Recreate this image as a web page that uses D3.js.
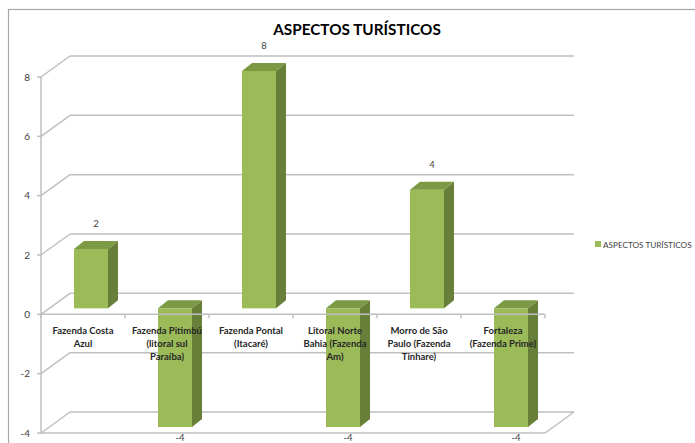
<!DOCTYPE html>
<html>
<head>
<meta charset="utf-8">
<script src="https://cdn.jsdelivr.net/npm/d3@7"></script>
<style>
  body { margin: 0; background: #fff; }
  svg { display: block; font-family: Lato, "Open Sans", sans-serif; }
</style>
</head>
<body>
<div id="chart"></div>
<script>
const categories = [
    ['Fazenda Costa', 'Azul'],
    ['Fazenda Pitimbú', '(litoral sul', 'Paraíba)'],
    ['Fazenda Pontal', '(Itacaré)'],
    ['Litoral Norte', 'Bahia (Fazenda', 'Am)'],
    ['Morro de São', 'Paulo (Fazenda', 'Tinhare)'],
    ['Fortaleza', '(Fazenda Prime)']
];
const values = [2, -4, 8, -4, 4, -4];
const yTicks = [-4, -2, 0, 2, 4, 6, 8];
const seriesName = 'ASPECTOS TURÍSTICOS';
const title = 'ASPECTOS TURÍSTICOS';

const width = 695;
const height = 443;
const depth = { dx: 29, dy: -21 };      // wall depth
const barOff = { dx: 8, dy: -6 };       // bar front position inside depth
const barDepth = { dx: 10, dy: -8 };
const barWidth = 34;

const svg = d3.select('#chart')
    .append('svg')
    .attr('width', width)
    .attr('height', height);

// chart area border (cropped on the right and bottom)
svg.append('rect')
    .attr('x', 8.5).attr('y', 9.5)
    .attr('width', 720).attr('height', 480)
    .attr('fill', 'none')
    .attr('stroke', '#a6a6a6')
    .attr('stroke-width', 1.2);

const y = d3.scaleLinear().domain([-4, 8]).range([433, 77]);
const x = d3.scaleBand()
    .domain(d3.range(categories.length))
    .range([41, 545])
    .padding(0);

const x0 = x.range()[0], x1 = x.range()[1];
const gridColor = '#bfbfbf';

// back wall gridlines and side wall diagonals
const grid = svg.append('g');
yTicks.forEach(t => {
    grid.append('line')
        .attr('x1', x0 + depth.dx).attr('x2', x1 + depth.dx)
        .attr('y1', y(t) + depth.dy).attr('y2', y(t) + depth.dy)
        .attr('stroke', gridColor).attr('stroke-width', 1.5);
    grid.append('line')
        .attr('x1', x0).attr('x2', x0 + depth.dx)
        .attr('y1', y(t)).attr('y2', y(t) + depth.dy)
        .attr('stroke', gridColor).attr('stroke-width', 1.5);
});

// floor front and right edges
grid.append('line')
    .attr('x1', x0).attr('x2', x1)
    .attr('y1', y(-4)).attr('y2', y(-4))
    .attr('stroke', gridColor).attr('stroke-width', 1.5);
grid.append('line')
    .attr('x1', x1).attr('x2', x1 + depth.dx)
    .attr('y1', y(-4)).attr('y2', y(-4) + depth.dy)
    .attr('stroke', gridColor).attr('stroke-width', 1.5);

// bars
const bars = svg.append('g');
values.forEach((v, i) => {
    const bx = x(i) + x.bandwidth() / 2 + barOff.dx - barWidth / 2;
    const yTop = y(Math.max(v, 0)) + barOff.dy;
    const yBot = y(Math.min(v, 0)) + barOff.dy;
    // front
    bars.append('rect')
        .attr('x', bx).attr('y', yTop)
        .attr('width', barWidth).attr('height', yBot - yTop)
        .attr('fill', '#9bbb59');
    // side
    bars.append('path')
        .attr('d', `M${bx + barWidth},${yTop} l${barDepth.dx},${barDepth.dy} L${bx + barWidth + barDepth.dx},${yBot + barDepth.dy} L${bx + barWidth},${yBot} Z`)
        .attr('fill', '#677f38');
    // top
    bars.append('path')
        .attr('d', `M${bx},${yTop} l${barDepth.dx},${barDepth.dy} h${barWidth} l${-barDepth.dx},${-barDepth.dy} Z`)
        .attr('fill', '#7c9a44');
    // value label
    const lx = bx + barWidth / 2 + barDepth.dx / 2;
    const ly = v >= 0 ? yTop + barDepth.dy - 14 : yBot + 14;
    bars.append('text')
        .attr('x', lx).attr('y', ly)
        .attr('text-anchor', 'middle')
        .attr('font-size', 9.5)
        .attr('fill', '#404040')
        .text(v);
});

// value axis (front)
const axis = svg.append('g');
axis.append('line')
    .attr('x1', x0).attr('x2', x0)
    .attr('y1', y(8)).attr('y2', y(-4))
    .attr('stroke', gridColor).attr('stroke-width', 1.5);
yTicks.forEach(t => {
    axis.append('line')
        .attr('x1', x0 - 4).attr('x2', x0)
        .attr('y1', y(t)).attr('y2', y(t))
        .attr('stroke', gridColor).attr('stroke-width', 1.5);
    axis.append('text')
        .attr('x', x0 - 11).attr('y', y(t) + 3.5)
        .attr('text-anchor', 'end')
        .attr('font-size', 10)
        .attr('fill', '#404040')
        .text(t);
});

// category axis at zero
axis.append('line')
    .attr('x1', x0).attr('x2', x1)
    .attr('y1', y(0)).attr('y2', y(0))
    .attr('stroke', gridColor).attr('stroke-width', 1.5);
d3.range(categories.length + 1).forEach(i => {
    const tx = x0 + i * x.bandwidth();
    axis.append('line')
        .attr('x1', tx).attr('x2', tx)
        .attr('y1', y(0)).attr('y2', y(0) + 4)
        .attr('stroke', gridColor).attr('stroke-width', 1.5);
});

categories.forEach((lines, i) => {
    const t = axis.append('text')
        .attr('text-anchor', 'middle')
        .attr('font-size', 9.5)
        .attr('font-weight', 'bold')
        .attr('fill', '#262626');
    lines.forEach((ln, j) => {
        t.append('tspan')
            .attr('x', x(i) + x.bandwidth() / 2)
            .attr('y', 334 + j * 13)
            .text(ln);
    });
});

// title
svg.append('text')
    .attr('x', 357).attr('y', 35)
    .attr('text-anchor', 'middle')
    .attr('font-size', 15.3)
    .attr('font-weight', 'bold')
    .attr('fill', '#000')
    .text(title);

// legend
svg.append('rect')
    .attr('x', 595).attr('y', 241)
    .attr('width', 6).attr('height', 6)
    .attr('fill', '#9bbb59');
svg.append('text')
    .attr('x', 603).attr('y', 247.5)
    .attr('font-size', 8.2)
    .attr('fill', '#404040')
    .text(seriesName);
</script>
</body>
</html>
